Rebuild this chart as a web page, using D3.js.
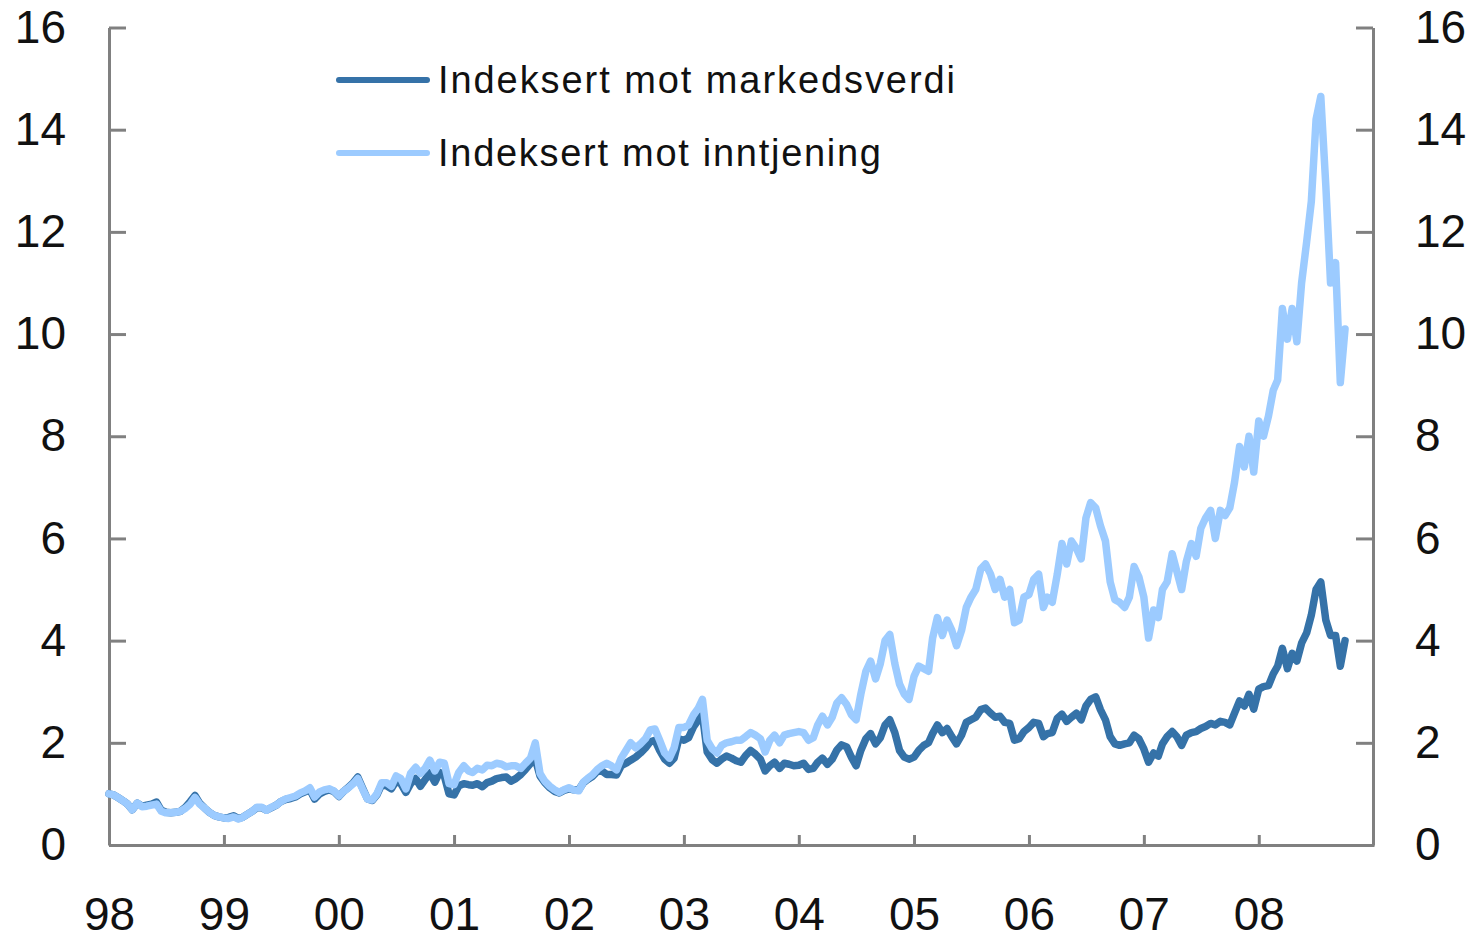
<!DOCTYPE html>
<html>
<head>
<meta charset="utf-8">
<script src="https://cdn.jsdelivr.net/npm/d3@7"></script>
<style>
  body { margin: 0; background: #fff; }
  text { font-family: "Liberation Sans", Arial, sans-serif; fill: #111; }
</style>
</head>
<body>
<div id="chart"></div>
<script>
// half-monthly observations, 1 Jan 1998 -> 1 Oct 2008
var seriesNames = ["Indeksert mot markedsverdi", "Indeksert mot inntjening"];
var yearLabels = ["98", "99", "00", "01", "02", "03", "04", "05", "06", "07", "08"];
var yTicks = [0, 2, 4, 6, 8, 10, 12, 14, 16];

var markedsverdi = [
  1.0, 0.98, 0.92, 0.86, 0.8, 0.69, 0.82, 0.76, 0.78, 0.8, 0.84, 0.68, 0.64, 0.63, 0.64, 0.66, 0.74, 0.85, 0.97, 0.82, 0.72, 0.64, 0.58, 0.55,
  0.53, 0.54, 0.57, 0.52, 0.54, 0.6, 0.66, 0.73, 0.73, 0.68, 0.73, 0.78, 0.85, 0.89, 0.91, 0.94, 1.0, 1.04, 1.08, 0.9, 1.0, 1.05, 1.08, 1.05,
  0.95, 1.05, 1.13, 1.22, 1.33, 1.12, 0.9, 0.87, 0.98, 1.18, 1.16, 1.1, 1.25, 1.2, 1.03, 1.2, 1.3, 1.15, 1.28, 1.41, 1.23, 1.42, 1.35, 1.0,
  0.98, 1.16, 1.2, 1.18, 1.17, 1.2, 1.14, 1.22, 1.25, 1.3, 1.32, 1.33, 1.25, 1.3, 1.38, 1.48, 1.6, 1.68, 1.35, 1.22, 1.12, 1.05, 1.02, 1.07,
  1.1, 1.08, 1.08, 1.22, 1.28, 1.34, 1.44, 1.45, 1.38, 1.38, 1.37, 1.55, 1.6, 1.66, 1.72, 1.8, 1.9, 2.02, 2.05, 1.85, 1.68, 1.6, 1.7, 2.08,
  2.05, 2.1, 2.32, 2.45, 2.55, 1.82, 1.67, 1.6, 1.68, 1.74, 1.7, 1.65, 1.62, 1.75, 1.85, 1.78, 1.68, 1.45, 1.55, 1.62, 1.5, 1.6, 1.58, 1.55,
  1.56, 1.6, 1.48, 1.5, 1.62, 1.7, 1.58, 1.68, 1.86, 1.96, 1.92, 1.72, 1.55, 1.85, 2.08, 2.18, 1.98, 2.1, 2.35, 2.45, 2.2, 1.85, 1.72, 1.68,
  1.72, 1.85, 1.95, 2.0, 2.18, 2.35, 2.2, 2.28, 2.12, 1.98, 2.15, 2.4, 2.45, 2.5, 2.65, 2.68, 2.58, 2.5, 2.52, 2.4, 2.38, 2.05, 2.08, 2.22,
  2.3, 2.4, 2.38, 2.12, 2.18, 2.2, 2.48, 2.56, 2.42, 2.5, 2.58, 2.45, 2.72, 2.85, 2.9, 2.65, 2.45, 2.12, 1.98, 1.95, 1.98, 2.0, 2.15, 2.08,
  1.88, 1.62, 1.8, 1.74, 1.98, 2.12, 2.22, 2.12, 1.95, 2.15, 2.2, 2.22, 2.28, 2.32, 2.38, 2.35, 2.42, 2.4, 2.35, 2.58, 2.82, 2.72, 2.95, 2.66,
  3.05, 3.1, 3.12, 3.35, 3.5, 3.85, 3.45, 3.75, 3.6, 3.95, 4.15, 4.5, 5.0, 5.15, 4.4, 4.1, 4.1, 3.5, 4.0
];

var inntjening = [
  1.0, 0.98, 0.92, 0.86, 0.8, 0.69, 0.82, 0.75, 0.76, 0.78, 0.8, 0.66, 0.63, 0.63, 0.64, 0.66, 0.72, 0.8, 0.93, 0.8, 0.72, 0.64, 0.58, 0.55,
  0.53, 0.52, 0.55, 0.51, 0.54, 0.6, 0.66, 0.74, 0.74, 0.68, 0.74, 0.78, 0.85, 0.9, 0.93, 0.96, 1.02, 1.06, 1.12, 0.94, 1.04, 1.08, 1.1, 1.06,
  0.96, 1.05, 1.12, 1.2, 1.3, 1.1, 0.9, 0.88, 1.0, 1.22, 1.22, 1.15, 1.35, 1.3, 1.1, 1.4, 1.52, 1.4, 1.5, 1.66, 1.45, 1.62, 1.6, 1.2,
  1.18, 1.42, 1.55, 1.45, 1.42, 1.5, 1.47, 1.56, 1.55, 1.6, 1.58, 1.53, 1.55, 1.55, 1.5, 1.6, 1.7, 2.0, 1.4, 1.25, 1.15, 1.08, 1.03, 1.08,
  1.12, 1.08, 1.06, 1.23, 1.3, 1.37, 1.48, 1.55, 1.6, 1.55, 1.47, 1.7, 1.85, 2.0, 1.9, 1.98, 2.08, 2.25, 2.27, 2.05, 1.8, 1.7, 1.9, 2.3,
  2.3, 2.35, 2.55, 2.68, 2.85, 2.05, 1.88, 1.8, 1.95, 2.0, 2.02, 2.05, 2.05, 2.12, 2.2, 2.15, 2.08, 1.82, 2.05, 2.15, 2.0, 2.15, 2.18, 2.2,
  2.22, 2.2, 2.05, 2.1, 2.35, 2.52, 2.35, 2.5, 2.78, 2.88, 2.75, 2.55, 2.45, 2.95, 3.4, 3.6, 3.25, 3.55, 4.0, 4.12, 3.55, 3.15, 2.95, 2.85,
  3.3, 3.5, 3.45, 3.4, 4.05, 4.45, 4.1, 4.4, 4.2, 3.9, 4.2, 4.65, 4.85, 5.0, 5.4, 5.5, 5.3, 5.0, 5.2, 4.85, 5.0, 4.35, 4.4, 4.85,
  4.9, 5.2, 5.3, 4.65, 4.85, 4.75, 5.3, 5.9, 5.5, 5.95, 5.8, 5.6, 6.4, 6.7, 6.6, 6.25, 5.95, 5.15, 4.8, 4.75, 4.65, 4.85, 5.45, 5.25,
  4.85, 4.05, 4.6, 4.45, 5.0, 5.15, 5.7, 5.35, 5.0, 5.55, 5.9, 5.65, 6.2, 6.4, 6.55, 6.0, 6.55, 6.45, 6.6, 7.1, 7.8, 7.4, 8.0, 7.3,
  8.3, 8.0, 8.4, 8.9, 9.1, 10.5, 9.9, 10.5, 9.85, 11.0, 11.8, 12.6, 14.2, 14.65, 12.9, 11.0, 11.4, 9.05, 10.1
];

// dates: 1st and 16th of every month
var dates = d3.range(markedsverdi.length).map(function(i) {
  return new Date(1998, Math.floor(i / 2), i % 2 ? 16 : 1);
});

function init() {
  var w = 1483;
  var h = 941;
  var colors = ["#3572a8", "#9ccbff"];
  var axisColor = "#808080";

  var svg = d3.select("#chart")
              .append("svg")
              .attr("width", w)
              .attr("height", h);

  var xscale = d3.scaleTime()
                 .domain([new Date(1998, 0, 1), new Date(2009, 0, 1)])
                 .range([109, 1374]);

  var yscale = d3.scaleLinear()
                 .domain([0, 16])
                 .range([845, 27.5]);

  var yearTicks = yearLabels.map(function(d, i) { return new Date(1998 + i, 0, 1); });

  var xAxis = d3.axisBottom(xscale)
                .tickValues(yearTicks)
                .tickFormat(function(d, i) { return yearLabels[i]; })
                .tickSize(-10)
                .tickSizeOuter(0)
                .tickPadding(52);

  var yLeft = d3.axisLeft(yscale)
                .tickValues(yTicks)
                .tickSize(-17)
                .tickSizeOuter(0)
                .tickPadding(43);

  var yRight = d3.axisRight(yscale)
                 .tickValues(yTicks)
                 .tickSize(-17)
                 .tickSizeOuter(0)
                 .tickPadding(42);

  function styleAxis(g) {
    g.select(".domain").attr("stroke", axisColor).attr("stroke-width", 3);
    g.selectAll(".tick line").attr("stroke", axisColor).attr("stroke-width", 3);
    g.selectAll(".tick text")
      .style("font-family", "'Liberation Sans', Arial, sans-serif")
      .style("font-size", "46px")
      .attr("fill", "#111");
  }

  svg.append("g")
     .attr("transform", "translate(0," + 845 + ")")
     .call(xAxis)
     .call(styleAxis);

  svg.append("g")
     .attr("transform", "translate(109,0)")
     .call(yLeft)
     .call(styleAxis);

  svg.append("g")
     .attr("transform", "translate(1373,0)")
     .call(yRight)
     .call(styleAxis);

  var line = d3.line()
               .x(function(d) { return xscale(d[0]); })
               .y(function(d) { return yscale(d[1]); });

  [markedsverdi, inntjening].forEach(function(vals, k) {
    svg.append("path")
       .datum(vals.map(function(v, i) { return [dates[i], v]; }))
       .attr("fill", "none")
       .attr("stroke", colors[k])
       .attr("stroke-width", 7.5)
       .attr("stroke-linejoin", "round")
       .attr("stroke-linecap", "round")
       .attr("d", line);
  });

  // legend
  var legendY = [80, 153];
  var legendW = [517, 443];
  seriesNames.forEach(function(name, k) {
    svg.append("line")
       .attr("x1", 339).attr("x2", 427)
       .attr("y1", legendY[k]).attr("y2", legendY[k])
       .attr("stroke", colors[k])
       .attr("stroke-width", 6)
       .attr("stroke-linecap", "round");
    svg.append("text")
       .attr("x", 438)
       .attr("y", legendY[k] + 13)
       .attr("textLength", legendW[k])
       .attr("lengthAdjust", "spacing")
       .style("font-size", "38px")
       .text(name);
  });
}
window.onload = init;
</script>
</body>
</html>
